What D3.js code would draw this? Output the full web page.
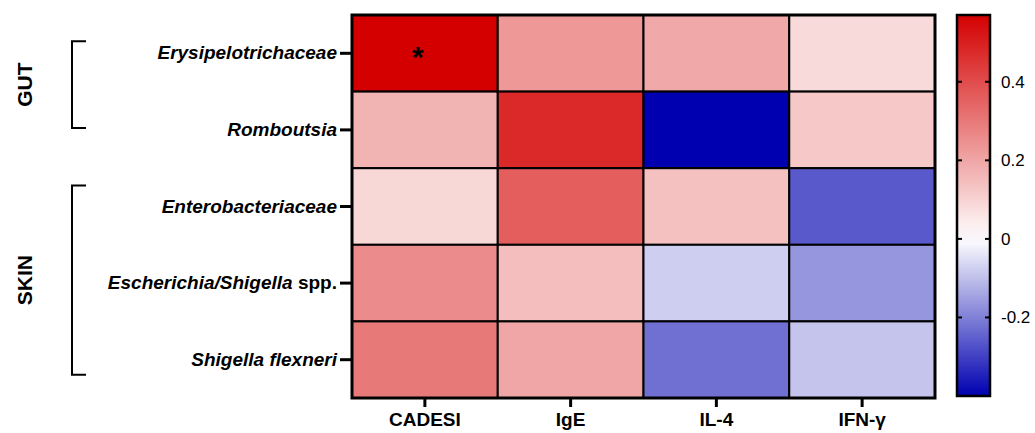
<!DOCTYPE html>
<html>
<head>
<meta charset="utf-8">
<script src="https://cdn.jsdelivr.net/npm/d3@7"></script>
<style>
  html, body { margin: 0; padding: 0; background: #fff; }
  svg { display: block; font-family: "Liberation Sans", Arial, sans-serif; }
</style>
</head>
<body>
<svg id="chart" width="1035" height="433"></svg>
<script>
// Taxa (rows) and clinical parameters (columns)
const taxa = ["Erysipelotrichaceae", "Romboutsia", "Enterobacteriaceae", "Escherichia/Shigella spp.", "Shigella flexneri"];
const params = ["CADESI", "IgE", "IL-4", "IFN-γ"];

// Correlation coefficients, one array per parameter (in taxa order)
const cadesi = [0.57, 0.17, 0.09, 0.26, 0.30];
const ige    = [0.23, 0.48, 0.36, 0.145, 0.20];
const il4    = [0.195, -0.40, 0.14, -0.077, -0.225];
const ifng   = [0.083, 0.123, -0.26, -0.165, -0.092];

// Significant cells marked with an asterisk: [taxon, parameter]
const significant = [["Erysipelotrichaceae", "CADESI"]];

// Colour bar ticks and row groups
const legendTicks = [0.4, 0.2, 0, -0.2];
const groups = [
  { name: "GUT",  from: "Erysipelotrichaceae", to: "Romboutsia" },
  { name: "SKIN", from: "Enterobacteriaceae",  to: "Shigella flexneri" }
];

const columns = [cadesi, ige, il4, ifng];
const cells = [];
params.forEach((p, j) => taxa.forEach((t, i) => cells.push({ taxon: t, param: p, value: columns[j][i] })));

const vmin = d3.min(cells, d => d.value), vmax = d3.max(cells, d => d.value);
const color = d3.scaleLinear()
  .domain([vmin, 0, vmax])
  .range(["#0000b0", "#ffffff", "#d40000"])
  .interpolate(d3.interpolateRgb);

const svg = d3.select("#chart");
const plot = { left: 352, right: 935, top: 15, bottom: 398 };

const x = d3.scaleBand().domain(params).range([plot.left, plot.right]);
const y = d3.scaleBand().domain(taxa).range([plot.top, plot.bottom]);

// Heatmap cells
svg.append("g")
  .selectAll("rect")
  .data(cells)
  .join("rect")
  .attr("x", d => x(d.param))
  .attr("y", d => y(d.taxon))
  .attr("width", x.bandwidth())
  .attr("height", y.bandwidth())
  .attr("fill", d => color(d.value))
  .attr("stroke", "#000")
  .attr("stroke-width", 2);

// Outer frame
svg.append("rect")
  .attr("x", plot.left).attr("y", plot.top)
  .attr("width", plot.right - plot.left).attr("height", plot.bottom - plot.top)
  .attr("fill", "none").attr("stroke", "#000").attr("stroke-width", 3);

// Asterisks
svg.append("g")
  .selectAll("text")
  .data(significant)
  .join("text")
  .attr("x", d => x(d[1]) + x.bandwidth() / 2 - 7)
  .attr("y", d => y(d[0]) + y.bandwidth() / 2 + 14)
  .attr("text-anchor", "middle")
  .attr("font-size", 30)
  .attr("font-weight", "bold")
  .text("*");

// Left axis (taxa)
const yAxis = svg.append("g")
  .attr("transform", `translate(${plot.left - 1},0)`)
  .call(d3.axisLeft(y).tickSize(11).tickPadding(3));
yAxis.select(".domain").remove();
yAxis.selectAll(".tick line").attr("stroke", "#000").attr("stroke-width", 3);
yAxis.selectAll(".tick text")
  .attr("font-size", 19)
  .attr("font-weight", "bold")
  .attr("fill", "#000")
  .each(function (d) {
    const t = d3.select(this).text("");
    const m = d.match(/^(.*?)( spp\.)?$/);
    t.append("tspan").attr("font-style", "italic").text(m[1]);
    if (m[2]) t.append("tspan").text(m[2]);
  });

// Bottom axis (parameters)
const xAxis = svg.append("g")
  .attr("transform", `translate(0,${plot.bottom + 1})`)
  .call(d3.axisBottom(x).tickSize(8).tickPadding(6));
xAxis.select(".domain").remove();
xAxis.selectAll(".tick line").attr("stroke", "#000").attr("stroke-width", 3);
xAxis.selectAll(".tick text")
  .attr("font-size", 19)
  .attr("font-weight", "bold")
  .attr("fill", "#000");

// Group brackets and labels (bracket ends offset from the first/last row centres)
const bracketPad = { GUT: [-12, -2], SKIN: [-21, 15] };
const brk = svg.append("g");
groups.forEach(g => {
  const y0 = y(g.from) + y.bandwidth() / 2 + bracketPad[g.name][0];
  const y1 = y(g.to) + y.bandwidth() / 2 + bracketPad[g.name][1];
  brk.append("path")
    .attr("d", `M86,${y0}H72V${y1}H86`)
    .attr("fill", "none").attr("stroke", "#000").attr("stroke-width", 2);
  brk.append("text")
    .attr("transform", `translate(32,${(y0 + y1) / 2}) rotate(-90)`)
    .attr("text-anchor", "middle")
    .attr("font-size", 21)
    .attr("font-weight", "bold")
    .text(g.name);
});

// Colour bar
const bar = { left: 957, right: 990, top: 15, bottom: 396 };
const cy = d3.scaleLinear().domain([vmin, vmax]).range([bar.bottom, bar.top]);
const grad = svg.append("defs").append("linearGradient")
  .attr("id", "cbar").attr("x1", 0).attr("y1", 1).attr("x2", 0).attr("y2", 0);
d3.range(0, 1.0001, 0.05).forEach(f => {
  const v = vmin + f * (vmax - vmin);
  grad.append("stop").attr("offset", f).attr("stop-color", color(v));
});
svg.append("rect")
  .attr("x", bar.left).attr("y", bar.top)
  .attr("width", bar.right - bar.left).attr("height", bar.bottom - bar.top)
  .attr("fill", "url(#cbar)").attr("stroke", "#000").attr("stroke-width", 2.5);

const ticks = svg.append("g");
ticks.selectAll("line.l").data(legendTicks).join("line")
  .attr("x1", bar.left).attr("x2", bar.left + 5)
  .attr("y1", d => cy(d)).attr("y2", d => cy(d))
  .attr("stroke", "#000").attr("stroke-width", 2);
ticks.selectAll("line.r").data(legendTicks).join("line")
  .attr("x1", bar.right - 5).attr("x2", bar.right)
  .attr("y1", d => cy(d)).attr("y2", d => cy(d))
  .attr("stroke", "#000").attr("stroke-width", 2);
ticks.selectAll("text").data(legendTicks).join("text")
  .attr("x", 1001)
  .attr("y", d => cy(d))
  .attr("dy", "0.35em")
  .attr("font-size", 17)
  .text(d => String(d));
</script>
</body>
</html>
